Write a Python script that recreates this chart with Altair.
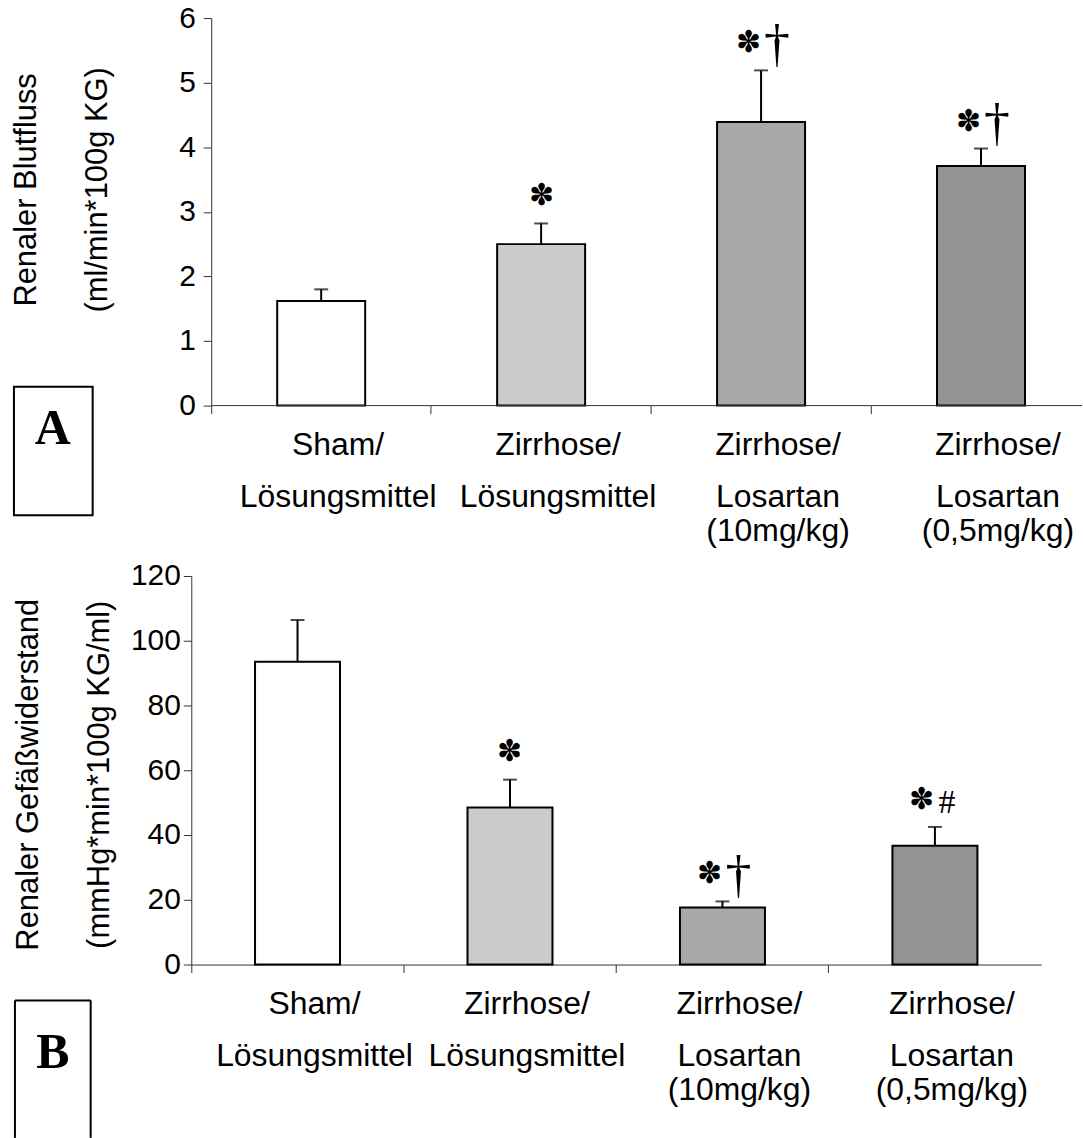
import altair as alt
import pandas as pd

# ---- data ----
line1 = ["Sham/", "Zirrhose/", "Zirrhose/", "Zirrhose/"]
line2 = ["Lösungsmittel", "Lösungsmittel", "Losartan", "Losartan"]
line3 = ["", "", "(10mg/kg)", "(0,5mg/kg)"]
bar_colors = ["#ffffff", "#cccccc", "#a8a8a8", "#939393"]

flow_mean = [1.62, 2.50, 4.39, 3.71]
flow_err = [0.18, 0.32, 0.80, 0.27]
flow_star = ["", "✽", "✽", "✽"]
flow_mark2 = ["", "", "†", "†"]

res_mean = [93.5, 48.5, 17.6, 36.7]
res_err = [12.9, 8.6, 1.9, 5.8]
res_star = ["", "✽", "✽", "✽"]
res_mark2 = ["", "", "†", "#"]

flow_ticks = [0, 1, 2, 3, 4, 5, 6]
res_ticks = [0, 20, 40, 60, 80, 100, 120]

groups = [f"{a}|{b}|{c}" for a, b, c in zip(line1, line2, line3)]

SANS = "Liberation Sans"
SERIF = "Liberation Serif"
LABEL_EXPR = "slice(split(datum.label, '|'), 0, 2)"


def make_df(mean, err, star, mark2):
    return pd.DataFrame({
        "group": groups,
        "line3": line3,
        "color": bar_colors,
        "mean": mean,
        "upper": [m + e for m, e in zip(mean, err)],
        "star": star,
        "mark2": mark2,
    })


def panel(df, ydom, yticks, ytitle, w, h, xrange, yoffset, ylabelpad,
          title_x, title_y, letter, box, letter_xy, box_bottom_open=False):
    sc_kwargs = dict(domain=groups, paddingInner=0, paddingOuter=0)
    if xrange is not None:
        sc_kwargs["range"] = xrange
    xscale = alt.Scale(**sc_kwargs)
    xaxis = alt.Axis(title=None, bandPosition=0, domain=xrange is None,
                     values=groups, labelExpr=LABEL_EXPR, labelOffset=17,
                     labelAngle=0, labelFontSize=32, labelLineHeight=52,
                     labelPadding=16, tickSize=8, labelBaseline="top",
                     labelLimit=600,
                     labelFont=SANS, labelColor="black", domainColor="#333",
                     tickColor="#333")
    x = alt.X("group:N", sort=groups, scale=xscale, axis=xaxis)
    yscale = alt.Scale(domain=ydom, nice=False, zero=True)
    yaxis = alt.Axis(title=ytitle, values=yticks, offset=yoffset,
                     tickSize=8, labelPadding=ylabelpad, labelFontSize=30,
                     labelFont=SANS, labelColor="black", domainColor="#333",
                     tickColor="#333", grid=False,
                     titleFont=SANS, titleFontSize=31, titleFontWeight="normal",
                     titleColor="black", titleLineHeight=71, titleX=title_x,
                     titleY=title_y, titleAngle=270, titleAlign="center",
                     titleBaseline="middle", titleLimit=800)
    y_mean = alt.Y("mean:Q", scale=yscale, axis=yaxis)
    y_upper = alt.Y("upper:Q", scale=yscale, axis=yaxis)

    base = alt.Chart(df)
    bars = base.mark_bar(width={"band": 0.4}, stroke="black", strokeWidth=2).encode(
        x=x, y=y_mean, color=alt.Color("color:N", scale=None),
    )
    stems = base.mark_rule(color="black", strokeWidth=2).encode(
        x=x, y=y_mean, y2="upper:Q",
    )
    caps = base.mark_tick(color="black", thickness=2, size=14, orient="horizontal").encode(
        x=x, y=y_upper,
    )
    star_single = base.transform_filter(
        "datum.star != '' && datum.mark2 == ''"
    ).mark_text(font=SERIF, fontSize=30, dy=-28, baseline="middle",
                color="black").encode(x=x, y=y_upper, text="star:N")
    star_pair = base.transform_filter(
        "datum.star != '' && datum.mark2 != ''"
    ).mark_text(font=SERIF, fontSize=30, dx=-13, dy=-27, baseline="middle",
                color="black").encode(x=x, y=y_upper, text="star:N")
    dagger = base.transform_filter(
        "datum.mark2 == '†'"
    ).mark_text(font=SERIF, fontSize=52, dx=16, dy=-25, baseline="middle",
                color="black").encode(x=x, y=y_upper, text="mark2:N")
    hashm = base.transform_filter(
        "datum.mark2 == '#'"
    ).mark_text(font=SERIF, fontSize=34, dx=12, dy=-24, baseline="middle",
                color="black").encode(x=x, y=y_upper, text="mark2:N")
    dose = base.mark_text(font=SANS, fontSize=32, dx=17, baseline="middle",
                          color="black").encode(
        x=x, y=alt.value(h + 126), text="line3:N",
    )
    layers = [bars, stems, caps, star_single, star_pair, dagger, hashm, dose]

    if xrange is not None:
        axis_line = alt.Chart(pd.DataFrame({"k": [0]})).mark_rule(
            color="#333", strokeWidth=1).encode(
            x=alt.value(xrange[0]), x2=alt.value(w), y=alt.value(h))
        layers.append(axis_line)

    lab = pd.DataFrame({"label": [letter]})
    bx0, bx1, by0, by1 = box
    if box_bottom_open:
        edges = pd.DataFrame({"k": [0]})
        left = alt.Chart(edges).mark_rule(color="black", strokeWidth=2).encode(
            x=alt.value(bx0), y=alt.value(by0), y2=alt.value(by1))
        right = alt.Chart(edges).mark_rule(color="black", strokeWidth=2).encode(
            x=alt.value(bx1), y=alt.value(by0), y2=alt.value(by1))
        top = alt.Chart(edges).mark_rule(color="black", strokeWidth=2).encode(
            x=alt.value(bx0), x2=alt.value(bx1), y=alt.value(by0))
        layers += [left, right, top]
    else:
        rect = alt.Chart(lab).mark_rect(fill="white", stroke="black", strokeWidth=2).encode(
            x=alt.value(bx0), x2=alt.value(bx1), y=alt.value(by0), y2=alt.value(by1))
        layers.append(rect)
    letter_txt = alt.Chart(lab).mark_text(font=SERIF, fontSize=50, fontWeight="bold",
                                          baseline="middle", align="center",
                                          color="black").encode(
        x=alt.value(letter_xy[0]), y=alt.value(letter_xy[1]), text="label:N")
    layers.append(letter_txt)

    return alt.layer(*layers).properties(width=w, height=h)


df_a = make_df(flow_mean, flow_err, flow_star, flow_mark2)
df_b = make_df(res_mean, res_err, res_star, res_mark2)

panel_a = panel(df_a, [0, 6], flow_ticks,
                ["Renaler Blutfluss", "(ml/min*100g KG)"],
                w=894, h=389, xrange=[20, 903], yoffset=-20, ylabelpad=8,
                title_x=-185.5, title_y=172, letter="A",
                box=(-178, -99, 370, 499), letter_xy=(-139, 413))

panel_b = panel(df_b, [0, 120], res_ticks,
                ["Renaler Gefäßwiderstand", "(mmHg*min*100g KG/ml)"],
                w=853, h=390, xrange=None, yoffset=0, ylabelpad=3,
                title_x=-163, title_y=199, letter="B",
                box=(-177, -101, 426, 564), letter_xy=(-139, 479),
                box_bottom_open=True)

chart = alt.vconcat(panel_a, panel_b, spacing=14).properties(
    padding={"left": 10, "top": 1, "right": 0, "bottom": 0},
    background="white",
).configure_view(stroke=None)

chart.save("out.html", embed_options={"renderer": "svg", "actions": False})
